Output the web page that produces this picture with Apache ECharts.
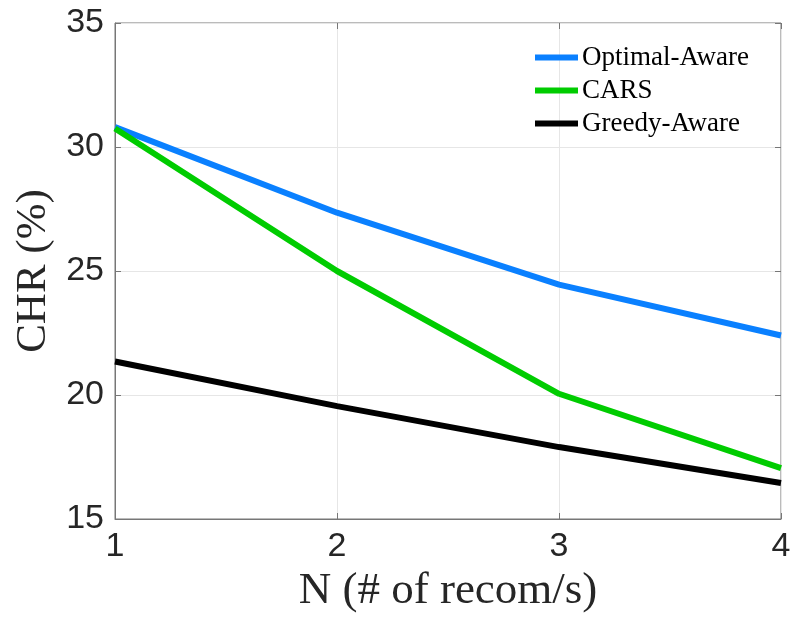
<!DOCTYPE html>
<html>
<head>
<meta charset="utf-8">
<script src="https://cdn.jsdelivr.net/npm/echarts@6/dist/echarts.min.js"></script>
<style>
  html, body { margin: 0; padding: 0; background: #fff; }
  #chart { width: 790px; height: 619px; }
</style>
</head>
<body>
<div id="chart"></div>
<script>
const nValues = [1, 2, 3, 4]
const optimalAware = [30.8, 27.35, 24.45, 22.4]
const cars = [30.75, 25.0, 20.05, 17.05]
const greedyAware = [21.35, 19.55, 17.9, 16.45]
const seriesNames = ['Optimal-Aware', 'CARS', 'Greedy-Aware']
const seriesColors = ['#0a80ff', '#00cc00', '#000000']

const chart = echarts.init(document.getElementById('chart'))

const serif = 'Liberation Serif'
const sans = 'Liberation Sans'

const pairs = (ys) => ys.map((y, i) => [nValues[i], y])

const option = {
  animation: false,
  grid: {
    left: 115,
    right: 9,
    top: 23,
    bottom: 100,
    containLabel: false,
    outerBoundsMode: 'none',
    show: true,
    borderColor: '#777',
    borderWidth: 1
  },
  legend: {
    orient: 'vertical',
    left: 530,
    top: 39,
    icon: 'rect',
    itemWidth: 43,
    itemHeight: 6,
    itemGap: 6,
    textStyle: { fontFamily: serif, fontSize: 27, color: '#000', padding: [0, 0, 0, -1] },
    data: seriesNames
  },
  xAxis: [
    {
      type: 'value',
      min: 1,
      max: 4,
      interval: 1,
      name: 'N (# of recom/s)',
      nameLocation: 'middle',
      nameGap: 50,
      nameTextStyle: { fontFamily: serif, fontSize: 45, color: '#262626' },
      axisLine: { lineStyle: { color: '#777', width: 1 } },
      axisTick: { inside: true, length: 6, lineStyle: { color: '#777' } },
      axisLabel: { fontFamily: sans, fontSize: 34, color: '#262626', margin: 11 },
      splitLine: { show: true, lineStyle: { color: '#e6e6e6' } }
    },
    {
      type: 'value',
      position: 'top',
      min: 1,
      max: 4,
      interval: 1,
      axisLine: { show: false },
      axisTick: { inside: true, length: 6, lineStyle: { color: '#777' } },
      axisLabel: { show: false },
      splitLine: { show: false }
    }
  ],
  yAxis: [
    {
      type: 'value',
      min: 15,
      max: 35,
      interval: 5,
      name: 'CHR (%)',
      nameLocation: 'middle',
      nameGap: 60,
      nameTextStyle: { fontFamily: serif, fontSize: 43, color: '#262626' },
      axisLine: { show: true, lineStyle: { color: '#777', width: 1 } },
      axisTick: { show: true, inside: true, length: 6, lineStyle: { color: '#777' } },
      axisLabel: { fontFamily: sans, fontSize: 34, color: '#262626', margin: 11 },
      splitLine: { show: true, lineStyle: { color: '#e6e6e6' } }
    },
    {
      type: 'value',
      position: 'right',
      min: 15,
      max: 35,
      interval: 5,
      axisLine: { show: false },
      axisTick: { show: true, inside: true, length: 6, lineStyle: { color: '#777' } },
      axisLabel: { show: false },
      splitLine: { show: false }
    }
  ],
  series: [optimalAware, cars, greedyAware].map((vals, i) => ({
    name: seriesNames[i],
    type: 'line',
    data: pairs(vals),
    showSymbol: false,
    symbol: 'none',
    lineStyle: { color: seriesColors[i], width: 6 },
    itemStyle: { color: seriesColors[i] }
  }))
}

chart.setOption(option)
</script>
</body>
</html>
